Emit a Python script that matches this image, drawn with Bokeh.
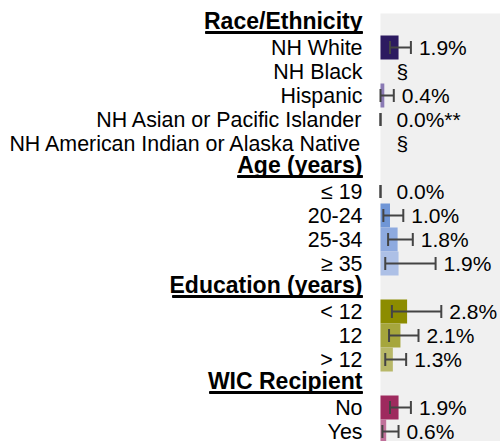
from bokeh.plotting import figure
from bokeh.models import ColumnDataSource, Range1d, BoxAnnotation
from bokeh.core.properties import value
from bokeh.embed import file_html
from bokeh.resources import INLINE

# ---------------- data ----------------
groups = ["Race/Ethnicity", "Age (years)", "Education (years)", "WIC Recipient"]

race_labels = ["NH White", "NH Black", "Hispanic", "NH Asian or Pacific Islander",
               "NH American Indian or Alaska Native"]
race_pct = [1.9, None, 0.4, 0.0, None]
race_lo = [1.0, None, 0.0, 0.0, None]
race_hi = [3.2, None, 1.4, 0.0, None]
race_note = ["", "§", "", "**", "§"]

age_labels = ["≤ 19", "20-24", "25-34", "≥ 35"]
age_pct = [0.0, 1.0, 1.8, 1.9]
age_lo = [0.0, 0.3, 0.8, 0.5]
age_hi = [0.0, 2.4, 3.4, 5.8]
age_note = ["", "", "", ""]

edu_labels = ["< 12", "12", "> 12"]
edu_pct = [2.8, 2.1, 1.3]
edu_lo = [1.2, 0.9, 0.5]
edu_hi = [6.4, 4.0, 2.7]
edu_note = ["", "", ""]

wic_labels = ["No", "Yes"]
wic_pct = [1.9, 0.6]
wic_lo = [1.0, 0.2]
wic_hi = [3.2, 1.9]
wic_note = ["", ""]

# ---------------- style ----------------
race_colors = ["#2c1a60", "#2c1a60", "#8a7ab4", "#8a7ab4", "#8a7ab4"]
age_colors = ["#5a80cc", "#7096d6", "#8eaadf", "#adc0e6"]
edu_colors = ["#8c8c00", "#a6a63c", "#b8b868"]
wic_colors = ["#9e2a5e", "#c0709a"]
underline_w = [157, 125, 190, 153]

FONT = "Liberation Sans"
W, H = 500, 441
PX_PER_UNIT = 9.5      # pixels per percentage point
ZERO_PX = 380          # x pixel of value 0
ROW_PX = 24.0          # pixels per row
FIRST_ROW_PX = 23      # y pixel of first row centre
UL_PX = 9              # underline distance below header row centre
PANEL_TOP_PX = 13

sections = [
    (groups[0], race_labels, race_pct, race_lo, race_hi, race_note, race_colors),
    (groups[1], age_labels, age_pct, age_lo, age_hi, age_note, age_colors),
    (groups[2], edu_labels, edu_pct, edu_lo, edu_hi, edu_note, edu_colors),
    (groups[3], wic_labels, wic_pct, wic_lo, wic_hi, wic_note, wic_colors),
]

hdr = dict(y=[], text=[], ul_x=[], ul_y=[], ul_w=[])
items = dict(y=[], label=[], pct=[], color=[])
err = dict(y=[], lo=[], hi=[])
vlab = dict(y=[], x=[], text=[], off=[])

row = 0
for gi, (g, labs, pct, lo, hi, note, cols) in enumerate(sections):
    hdr["y"].append(row)
    hdr["text"].append(g)
    hdr["ul_x"].append(-(18 + underline_w[gi] / 2) / PX_PER_UNIT)
    hdr["ul_y"].append(row + UL_PX / ROW_PX)
    hdr["ul_w"].append(underline_w[gi])
    row += 1
    for i, lab in enumerate(labs):
        items["y"].append(row)
        items["label"].append(lab)
        items["pct"].append(pct[i] if pct[i] is not None else 0.0)
        items["color"].append(cols[i])
        if pct[i] is None:
            vlab["y"].append(row); vlab["x"].append(0.0)
            vlab["text"].append(note[i]); vlab["off"].append(16)
        else:
            err["y"].append(row); err["lo"].append(lo[i]); err["hi"].append(hi[i])
            vlab["y"].append(row)
            vlab["x"].append(hi[i])
            vlab["text"].append(f"{pct[i]:.1f}%" + note[i])
            vlab["off"].append(8 if hi[i] > 0 else 16)
        row += 1

x_start = -ZERO_PX / PX_PER_UNIT
x_end = (W - ZERO_PX) / PX_PER_UNIT
y_top = -FIRST_ROW_PX / ROW_PX
y_bottom = (H - FIRST_ROW_PX) / ROW_PX

p = figure(width=W, height=H, output_backend="svg", toolbar_location=None,
           x_range=Range1d(x_start, x_end), y_range=Range1d(y_bottom, y_top),
           min_border=0, tools="")
p.axis.visible = False
p.grid.visible = False
p.outline_line_color = None
p.background_fill_color = "white"

panel = BoxAnnotation(left=0, top=(PANEL_TOP_PX - FIRST_ROW_PX) / ROW_PX,
                      fill_color="#f0f0f0", fill_alpha=1.0,
                      line_color=None, level="underlay")
p.add_layout(panel)

isrc = ColumnDataSource(items)
esrc = ColumnDataSource(err)
vsrc = ColumnDataSource(vlab)
hsrc = ColumnDataSource(hdr)

p.hbar(y="y", left=0, right="pct", height=1.0, fill_color="color", line_color=None,
       source=isrc)

ecol = "#444444"
p.segment(x0="lo", x1="hi", y0="y", y1="y", line_color=ecol, line_width=2, source=esrc)
p.dash(x="lo", y="y", size=13, angle=90, angle_units="deg", line_color=ecol,
       line_width=2, source=esrc)
p.dash(x="hi", y="y", size=13, angle=90, angle_units="deg", line_color=ecol,
       line_width=2, source=esrc)

p.text(x="x", y="y", text="text", x_offset="off", source=vsrc,
       text_font=value(FONT), text_font_size=value("21px"), text_color="black",
       text_align="left", text_baseline="middle")

p.text(x=0, y="y", text="label", x_offset=-18, source=isrc,
       text_font=value(FONT), text_font_size=value("21.4px"), text_color="black",
       text_align="right", text_baseline="middle")

p.text(x=0, y="y", text="text", x_offset=-18, y_offset=-3, source=hsrc,
       text_font=value(FONT), text_font_size=value("23px"), text_font_style="bold",
       text_color="black", text_align="right", text_baseline="middle")
p.rect(x="ul_x", y="ul_y", width="ul_w", height=2, width_units="screen",
       height_units="screen", color="black", source=hsrc)

open("out.html", "w").write(file_html(p, INLINE))
